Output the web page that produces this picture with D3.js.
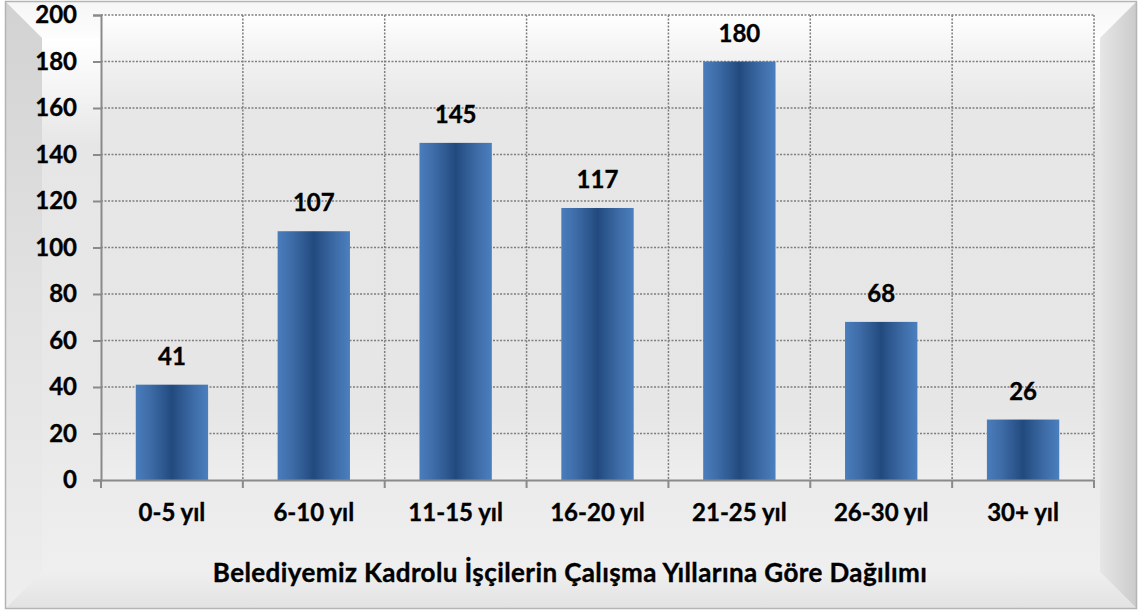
<!DOCTYPE html>
<html><head><meta charset="utf-8">
<script src="https://cdn.jsdelivr.net/npm/d3@7"></script>
<style>html,body{margin:0;padding:0;background:#fff;}svg{display:block;} text{stroke:#000;stroke-width:0.35px;}</style>
</head><body>
<script>
const categories = ["0-5 yıl","6-10 yıl","11-15 yıl","16-20 yıl","21-25 yıl","26-30 yıl","30+ yıl"];
const values = [41,107,145,117,180,68,26];
const yTicks = [0,20,40,60,80,100,120,140,160,180,200];
const title = "Belediyemiz Kadrolu İşçilerin Çalışma Yıllarına Göre Dağılımı";

const W = 1140, H = 612;
const svg = d3.select("body").append("svg").attr("width", W).attr("height", H);
const defs = svg.append("defs");
function lg(id, x1,y1,x2,y2, stops){
  const g = defs.append("linearGradient").attr("id",id).attr("x1",x1).attr("y1",y1).attr("x2",x2).attr("y2",y2);
  stops.forEach(s=>g.append("stop").attr("offset",s[0]).attr("stop-color",s[1]));
}
lg("face",0,0,0,1,[[0,"#ffffff"],[0.1,"#f4f4f4"],[0.2,"#e6e6e6"],[0.7,"#e8e8e8"],[1,"#efefef"]]);
lg("bTop",0,0,0,1,[[0,"#f6f6f6"],[1,"#fdfdfd"]]);
lg("bLeft",0,0,0,1,[[0,"#d2d2d2"],[0.5,"#e2e2e2"],[1,"#eeeeee"]]);
lg("bRight",0,0,1,0,[[0,"#e6e6e6"],[1,"#cbcbcb"]]);
lg("bBottom",0,0,0,1,[[0,"#efefef"],[1,"#e2e2e2"]]);
lg("bar",0,0,1,0,[[0,"#4a7dbd"],[0.2,"#3e6ca7"],[0.5,"#224a7f"],[0.8,"#3e6ca7"],[1,"#4b7fbf"]]);
lg("plotBg",0,0,0,1,[[0,"#ffffff"],[0.08,"#f3f3f3"],[0.2,"#e7e7e7"],[0.85,"#e6e6e6"],[1,"#eeeeee"]]);

// frame with bevel
const O = {x0:5,y0:1,x1:1137,y1:609};
const I = {x0:42,y0:38,x1:1100,y1:572};
svg.append("rect").attr("x",O.x0).attr("y",O.y0).attr("width",O.x1-O.x0).attr("height",O.y1-O.y0).attr("fill","url(#face)");
const poly = (pts, fill) => svg.append("polygon").attr("points", pts.map(p=>p.join(",")).join(" ")).attr("fill",fill);
poly([[O.x0,O.y0],[O.x1,O.y0],[I.x1,I.y0],[I.x0,I.y0]],"url(#bTop)");
poly([[O.x0,O.y0],[I.x0,I.y0],[I.x0,I.y1],[O.x0,O.y1]],"url(#bLeft)");
poly([[O.x1,O.y0],[O.x1,O.y1],[I.x1,I.y1],[I.x1,I.y0]],"url(#bRight)");
poly([[O.x0,O.y1],[I.x0,I.y1],[I.x1,I.y1],[O.x1,O.y1]],"url(#bBottom)");
svg.append("rect").attr("x",I.x0).attr("y",I.y0).attr("width",I.x1-I.x0).attr("height",I.y1-I.y0).attr("fill","url(#face)");
svg.append("rect").attr("x",O.x0+0.5).attr("y",O.y0+0.5).attr("width",O.x1-O.x0-1).attr("height",O.y1-O.y0-1)
  .attr("fill","none").attr("stroke","#b4b4b4").attr("stroke-width",1.5);

// plot
const P = {l:101, r:1094, t:15, b:480};
const x = d3.scaleBand().domain(categories).range([P.l,P.r]).paddingInner(0.49).paddingOuter(0.245);
const y = d3.scaleLinear().domain([0,200]).range([P.b,P.t]);
const step = x.step();

svg.append("rect").attr("x",P.l).attr("y",P.t).attr("width",P.r-P.l).attr("height",P.b-P.t).attr("fill","url(#plotBg)");

const font = "Lato, 'Open Sans', sans-serif";
const gridColor = "#7f7f7f";
// horizontal gridlines
svg.append("g").selectAll("line").data(yTicks.filter(d=>d>0)).join("line")
  .attr("x1",P.l).attr("x2",P.r).attr("y1",d=>y(d)).attr("y2",d=>y(d))
  .attr("stroke",gridColor).attr("stroke-width",1.5).attr("stroke-dasharray","2,1.5");
// vertical gridlines at boundaries
const bounds = categories.map(c => x(c) - step*x.paddingInner()/2).concat([P.r]).slice(1);
svg.append("g").selectAll("line").data(bounds).join("line")
  .attr("x1",d=>d).attr("x2",d=>d).attr("y1",P.t).attr("y2",P.b)
  .attr("stroke",gridColor).attr("stroke-width",1.5).attr("stroke-dasharray","2,1.5");

// bars
svg.append("g").selectAll("rect").data(values).join("rect")
  .attr("x",(d,i)=>x(categories[i])).attr("width",x.bandwidth())
  .attr("y",d=>y(d)).attr("height",d=>P.b-y(d)).attr("fill","url(#bar)");

// axes
const yAxis = d3.axisLeft(y).tickValues(yTicks).tickSize(8).tickPadding(16);
const gy = svg.append("g").attr("transform",`translate(${P.l},0)`).call(yAxis);
gy.select(".domain").attr("stroke","#8a8a8a").attr("stroke-width",2);
gy.selectAll(".tick line").attr("stroke","#8a8a8a").attr("stroke-width",2);
gy.selectAll(".tick text").attr("font-family",font).attr("font-weight","bold").attr("font-size",24).attr("fill","#000");

const xAxis = d3.axisBottom(x).tickSize(0).tickPadding(24);
const gx = svg.append("g").attr("transform",`translate(0,${P.b})`).call(xAxis);
gx.select(".domain").attr("stroke","#8a8a8a").attr("stroke-width",2);
gx.selectAll(".tick text").attr("font-family",font).attr("font-weight","bold").attr("font-size",24).attr("fill","#000");
gx.append("g").selectAll("line").data([P.l].concat(bounds)).join("line")
  .attr("x1",d=>d).attr("x2",d=>d).attr("y1",0).attr("y2",8).attr("stroke","#8a8a8a").attr("stroke-width",2);

// data labels
svg.append("g").selectAll("text").data(values).join("text")
  .attr("x",(d,i)=>x(categories[i])+x.bandwidth()/2).attr("y",d=>y(d)-20)
  .attr("text-anchor","middle").attr("font-family",font).attr("font-weight","bold").attr("font-size",24).attr("fill","#000")
  .text(d=>d);

// title
svg.append("text").attr("x",570).attr("y",582).attr("text-anchor","middle")
  .attr("font-family",font).attr("font-weight","bold").attr("font-size",26).attr("letter-spacing",0.4).attr("fill","#000").text(title);
</script>
</body></html>
